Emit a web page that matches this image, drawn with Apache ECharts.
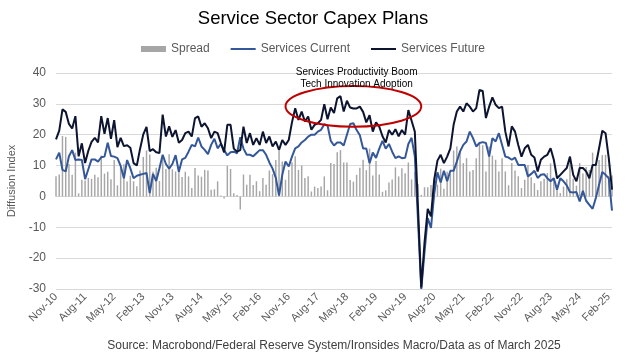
<!DOCTYPE html>
<html>
<head>
<meta charset="utf-8">
<script src="https://cdn.jsdelivr.net/npm/echarts@6/dist/echarts.min.js"></script>
<style>
  html, body { margin: 0; padding: 0; background: #fff; }
  #main { width: 626px; height: 354px; }
</style>
</head>
<body>
<div id="main"></div>
<script>
// monthly, Nov-10 .. Mar-25
var monthNames = ['Jan', 'Feb', 'Mar', 'Apr', 'May', 'Jun', 'Jul', 'Aug', 'Sep', 'Oct', 'Nov', 'Dec'];
var months = [];
for (var k = 0; k < 173; k++) {
  var m = (10 + k) % 12;
  var yr = 2010 + Math.floor((10 + k) / 12);
  months.push(monthNames[m] + '-' + String(yr).slice(2));
}

var servicesFuture = [
  18.5, 21.3, 28.2, 27.4, 23.5, 22, 26, 13, 17.2, 10.8,
  14.8, 17.7, 19, 17.5, 26, 20.3, 25.4, 18.7, 24.7, 16,
  19, 16.3, 16.6, 15.8, 10.8, 10, 15.4, 20.1, 22.5, 14.7,
  15.3, 14.3, 14.1, 26.5, 19.4, 22.7, 19.3, 21.5, 17.4, 18.3,
  20.5, 21, 19.4, 25.4, 25.9, 22.6, 23.7, 22.1, 18.9, 21,
  20.5, 17.3, 14.3, 23.2, 23.2, 15.5, 14.5, 15, 22.6, 17.3,
  20.5, 16.7, 18.9, 16.7, 21, 17.3, 19.4, 16.2, 17.8, 15.1,
  18.3, 16.7, 18.3, 24, 28.6, 24.8, 27.5, 24.3, 25.9, 21.6,
  23.2, 23.7, 24.8, 29.9, 25, 28.8, 27, 31.8, 32.5, 27.5,
  31, 28.8, 28.5, 28.5, 29.1, 27.4, 24, 26.3, 21, 24,
  22.6, 19.5, 17.5, 21.5, 20, 21.8, 19.5, 21.5, 20, 28,
  24.5, 21, -4, -29.5, -15, -4, -6.5, 5.4, 11.6, 13.5,
  10.8, 12.9, 15.6, 23.2, 27.5, 29.1, 27.5, 30.2, 29.1, 27.5,
  28.6, 34.5, 34.2, 25.4, 29.1, 32.1, 29.7, 28.6, 29.1, 21,
  16.2, 22.7, 21, 16.7, 12.9, 15.6, 16.7, 13.5, 12.6, 8.1,
  11.9, 12.9, 13.5, 15.6, 11.9, 5.9, 7, 8.1, 9.2, 12.9,
  7, 4.9, 9.2, 9.2, 8.1, 5.9, 10.2, 10.2, 15.6, 21.3,
  20.5, 12.4, 2.2
];

var servicesCurrent = [
  12, 14.2, 8.6, 8.1, 13, 15, 11.8, 12, 11.8, 5.6,
  8.8, 12, 12, 11.3, 12.7, 12.9, 17.4, 13.1, 12.9, 12.4,
  9.9, 5.9, 11.8, 9.1, 5.9, 6.7, 7, 7.3, 7.6, 1.1,
  7.3, 5, 9.1, 13.5, 10.5, 9, 10.5, 13.4, 8, 12,
  12.5, 14.5, 16.7, 16.2, 19.1, 16.2, 15.1, 13.7, 16.7, 18.7,
  15.6, 17, 15, 13.3, 14.3, 14.5, 14, 19.2, 15.5, 13.5,
  13.5, 13, 14, 15, 15, 13.5, 11, 9, 6, 0.3,
  7, 11.3, 9.7, 12.9, 15.6, 16.2, 17.5, 18.3, 19.4, 20,
  20, 21, 21.6, 23.4, 23, 18, 16.5, 17.5, 17.5, 16.5,
  20, 23.5, 23.7, 21.5, 19.8, 15.5, 15.5, 10.8, 14.2, 12.5,
  15.5, 18, 15.5, 17, 14.5, 12.4, 13, 12.4, 12.5, 17,
  19, 13, -8, -30, -18, -7, -10.2, 0.8, 7.8, 4.5,
  8.3, 4.9, 8.3, 8.3, 11.3, 14.6, 16.7, 17.8, 21, 18.9,
  16.2, 17.3, 17.6, 17.3, 12.9, 18.9, 17.8, 20.5, 16.7, 12.9,
  12.6, 11.9, 12.6, 10.2, 10.2, 10.2, 6.5, 7.3, 8.3, 6,
  7, 7.2, 5.9, 4.9, 5.9, 2.2, 5.9, 4.9, 3.6, 1.4,
  1.3, 1.4, -1.6, 1.8, -1.4, -2.7, -4, -0.5, 3.8, 7.9,
  7, 5.9, -4.6
];

var spread = [
  6.5, 7.1, 19.6, 19.3, 10.5, 7, 14.2, 1, 5.4, 5.2,
  6, 5.7, 7, 6.2, 13.3, 7.4, 8, 5.6, 11.8, 3.6,
  9.1, 10.4, 4.8, 6.7, 4.9, 3.3, 8.4, 12.8, 14.9, 13.6,
  8, 9.3, 5, 13, 8.9, 13.7, 8.8, 8.1, 9.4, 6.3,
  8, 6.5, 2.7, 9.2, 6.8, 6.4, 8.6, 8.4, 2.2, 2.3,
  4.9, 0.3, -0.7, 9.9, 8.9, 1, 0.5, -4.2, 7.1, 3.8,
  7, 3.7, 4.9, 1.7, 6, 3.8, 8.4, 7.2, 11.8, 14.8,
  11.3, 5.4, 8.6, 11.1, 13, 8.6, 10, 6, 6.5, 1.6,
  3.2, 2.7, 3.2, 6.5, 2, 10.8, 10.5, 14.3, 15, 11,
  11, 5.3, 4.8, 7, 9.3, 11.9, 8.5, 15.5, 6.8, 11.5,
  7.1, 1.5, 2, 4.5, 5.5, 9.4, 6.5, 9.1, 7.5, 11,
  5.5, 8, 4, 0.5, 3, 3, 3.7, 4.6, 3.8, 9,
  2.5, 8, 7.3, 14.9, 16.2, 14.5, 10.8, 12.4, 8.1, 8.6,
  12.4, 17.2, 16.6, 8.1, 16.2, 13.2, 11.9, 8.1, 12.4, 8.1,
  3.6, 10.8, 8.4, 6.5, 2.7, 5.4, 10.2, 6.2, 4.3, 2.1,
  4.9, 5.7, 7.6, 10.7, 6, 3.7, 1.1, 3.2, 5.6, 11.5,
  5.7, 3.5, 10.8, 7.4, 9.5, 8.6, 14.2, 10.7, 11.8, 13.4,
  13.5, 6.5, 6.8
];

var annotationLines = ['Services Productivity Boom', 'Tech Innovation Adoption'];
var sourceText = 'Source: Macrobond/Federal Reserve System/Ironsides Macro/Data as of March 2025';

var font = "'Liberation Sans', Arial, sans-serif";
var chart = echarts.init(document.getElementById('main'), null, { renderer: 'canvas' });

chart.setOption({
  backgroundColor: '#ffffff',
  animation: false,
  textStyle: { fontFamily: font },
  title: {
    text: 'Service Sector Capex Plans',
    left: 'center',
    top: 4,
    textStyle: { fontSize: 18.5, fontWeight: 'normal', color: '#000000', fontFamily: font }
  },
  legend: {
    top: 38,
    left: 'center',
    itemWidth: 25,
    itemHeight: 6,
    itemGap: 20,
    textStyle: { fontSize: 12, color: '#595959', fontFamily: font },
    data: [
      { name: 'Spread', icon: 'rect' },
      { name: 'Services Current', itemStyle: { opacity: 0 } },
      { name: 'Services Future', itemStyle: { opacity: 0 } }
    ]
  },
  grid: { left: 56, right: 14, top: 73, bottom: 65, outerBoundsMode: 'none' },
  xAxis: {
    type: 'category',
    data: months,
    boundaryGap: false,
    name: sourceText,
    nameLocation: 'middle',
    nameGap: 51,
    nameTextStyle: { fontSize: 12, color: '#404040', fontFamily: font },
    axisLine: { show: false },
    axisTick: { show: false },
    axisLabel: {
      interval: 8,
      rotate: 45,
      fontSize: 11,
      color: '#595959',
      margin: 6,
      fontFamily: font
    },
    splitLine: { show: false }
  },
  yAxis: {
    type: 'value',
    min: -30,
    max: 40,
    interval: 10,
    name: 'Diffusion Index',
    nameLocation: 'middle',
    nameGap: 36,
    nameTextStyle: { fontSize: 11, color: '#595959', fontFamily: font },
    axisLine: { show: false },
    axisTick: { show: false },
    axisLabel: { fontSize: 12, color: '#595959', margin: 10, fontFamily: font },
    splitLine: { lineStyle: { color: '#d9d9d9', width: 1 } }
  },
  series: [{
    name: 'Spread',
    type: 'bar',
    data: spread,
    barWidth: '45%',
    itemStyle: { color: '#a6a6a6' },
    z: 1
  }, {
    name: 'Services Current',
    type: 'line',
    data: servicesCurrent,
    symbol: 'none',
    lineStyle: { color: '#34579a', width: 2 },
    itemStyle: { color: '#34579a' },
    z: 2
  }, {
    name: 'Services Future',
    type: 'line',
    data: servicesFuture,
    symbol: 'none',
    lineStyle: { color: '#0c1430', width: 2 },
    itemStyle: { color: '#0c1430' },
    z: 3
  }]
});

// annotation anchored to data coordinates
var toPx = function (i, v) {
  return chart.convertToPixel({ xAxisIndex: 0, yAxisIndex: 0 }, [months[i], v]);
};
var left = toPx(71, 29.2), right = toPx(113, 29.2);
var topP = toPx(92, 35.8), botP = toPx(92, 22.6);
var txt = toPx(93, 38.2);

chart.setOption({
  graphic: [{
    type: 'ellipse',
    shape: {
      cx: (left[0] + right[0]) / 2,
      cy: (topP[1] + botP[1]) / 2,
      rx: (right[0] - left[0]) / 2,
      ry: (botP[1] - topP[1]) / 2
    },
    style: { fill: 'none', stroke: '#c00000', lineWidth: 2 },
    z: 10
  }, {
    type: 'text',
    x: txt[0],
    y: txt[1],
    style: {
      text: annotationLines.join('\n'),
      align: 'center',
      verticalAlign: 'middle',
      fontSize: 10,
      lineHeight: 12,
      fill: '#000000',
      fontFamily: font
    },
    z: 10
  }]
});
</script>
</body>
</html>
